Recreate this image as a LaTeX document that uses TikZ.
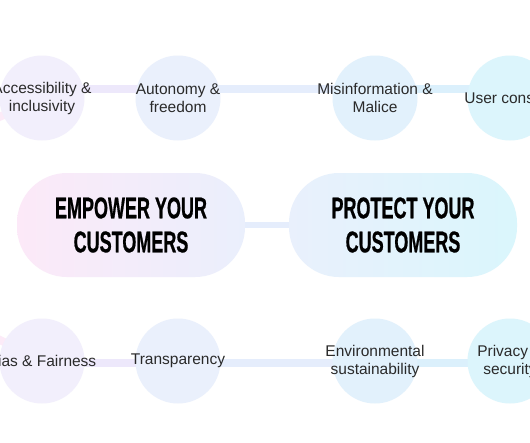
\documentclass[tikz,border=0pt]{standalone}
\usepackage{fontspec}
\setmainfont{Liberation Sans}
\newfontfamily\headfont[FakeStretch=0.6,FakeBold=0.6]{Liberation Sans}
\usetikzlibrary{backgrounds}
\definecolor{cA}{HTML}{F2EFFC}
\definecolor{cB}{HTML}{EAF0FC}
\definecolor{cC}{HTML}{E2F1FC}
\definecolor{cD}{HTML}{DCF5FC}
\definecolor{lA}{HTML}{EDE8FB}
\definecolor{lB}{HTML}{E5EDFC}
\definecolor{lC}{HTML}{DBF0FC}
\definecolor{pinkA}{HTML}{FCEBF8}
\definecolor{pL1}{HTML}{FCE9F8}
\definecolor{pL2}{HTML}{EAEFFC}
\definecolor{pR1}{HTML}{E9F0FC}
\definecolor{pR2}{HTML}{DAF6FC}
\definecolor{txt}{HTML}{2A2A2A}
\tikzset{
  topic/.style={align=center, inner sep=0pt,
    font=\fontsize{15.5}{18}\selectfont, text=txt},
  disc/.style={radius=42.5pt},
  pill/.style={rounded corners=50pt, minimum width=228pt, minimum height=104pt,
    align=center, font=\headfont\bfseries\fontsize{30}{34}\selectfont, text=black},
  link/.style={line width=8pt},
}
\begin{document}
\begin{tikzpicture}[x=1pt,y=-1pt]
\useasboundingbox (0,0) rectangle (530,442);
\clip (0,0) rectangle (530,442);
% top row
\node[topic] (t1) at (42,98) {Accessibility \&\\inclusivity};
\node[topic] (t2) at (178,98) {Autonomy \&\\freedom};
\node[topic] (t3) at (375,98) {Misinformation \&\\Malice};
\node[topic] (t4) at (510,98) {User consent};
% pills
\node[pill, left color=pL1, right color=pL2] (emp) at (131,225) {EMPOWER YOUR\\CUSTOMERS};
\node[pill, left color=pR1, right color=pR2] (pro) at (403,225) {PROTECT YOUR\\CUSTOMERS};
% bottom row
\node[topic] (b1) at (42,361) {Bias \& Fairness};
\node[topic] (b2) at (178,361) {Transparency};
\node[topic] (b3) at (375,361) {Environmental\\sustainability};
\node[topic] (b4) at (510,361) {Privacy \&\\security};
\coordinate (offA) at (-12,122);
\coordinate (offB) at (-12,334);
\begin{pgfonlayer}{background}
\fill[white] (0,0) rectangle (530,442);
\draw[link, draw=lA] ([yshift=9pt]t1.center) -- ([yshift=9pt]t2.center);
\draw[link, draw=lB] ([yshift=9pt]t2.center) -- ([yshift=9pt]t3.center);
\draw[link, draw=lC] ([yshift=9pt]t3.center) -- ([yshift=9pt]t4.center);
\draw[link, draw=pinkA] (t1.center) -- (offA);
\draw[link, draw=lA] ([yshift=-2pt]b1.center) -- ([yshift=-2pt]b2.center);
\draw[link, draw=lB] ([yshift=-2pt]b2.center) -- ([yshift=-2pt]b3.center);
\draw[link, draw=lC] ([yshift=-2pt]b3.center) -- ([yshift=-2pt]b4.center);
\draw[link, draw=pinkA] (b1.center) -- (offB);
\draw[line width=6pt, draw=lB] (emp.center) -- (pro.center);
\fill[cA] (t1.center) circle[disc];
\fill[cB] (t2.center) circle[disc];
\fill[cC] (t3.center) circle[disc];
\fill[cD] (t4.center) circle[disc];
\fill[cA] (b1.center) circle[disc];
\fill[cB] (b2.center) circle[disc];
\fill[cC] (b3.center) circle[disc];
\fill[cD] (b4.center) circle[disc];
\end{pgfonlayer}
\end{tikzpicture}
\end{document}
